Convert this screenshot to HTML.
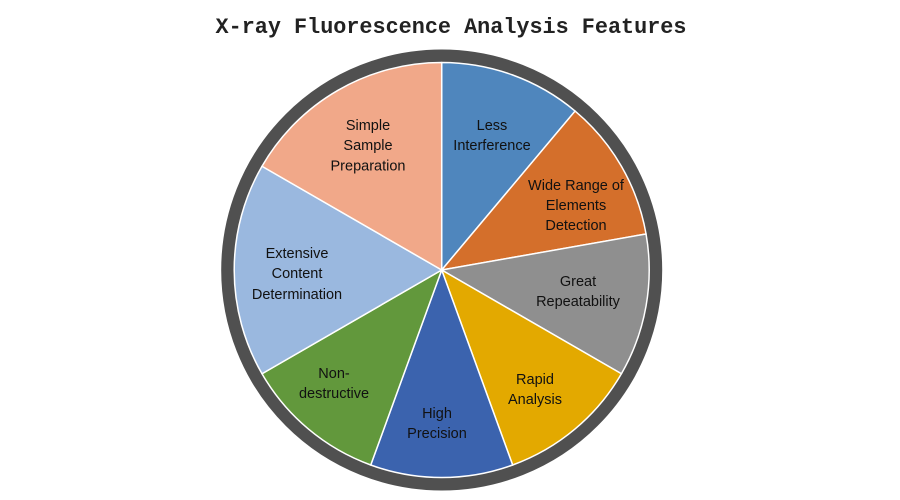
<!DOCTYPE html>
<html><head><meta charset="utf-8"><style>
html,body{margin:0;padding:0;background:#fff;}
svg{display:block;}
</style></head><body>
<svg width="900" height="500" viewBox="0 0 900 500" xmlns="http://www.w3.org/2000/svg">
<text x="451" y="27" text-anchor="middle" dominant-baseline="middle" font-family="Liberation Mono, monospace" font-weight="bold" font-size="21.8" fill="#222">X-ray Fluorescence Analysis Features</text>
<circle cx="441.7" cy="270" r="214" fill="none" stroke="#505050" stroke-width="13"/>
<g stroke="#fff" stroke-width="1.5" stroke-linejoin="round">
<path d="M441.7,270 L441.7,62.5 A207.5,207.5 0 0 1 575.1,111.05 Z" fill="#4f86bd"/>
<path d="M441.7,270 L575.1,111.05 A207.5,207.5 0 0 1 646.05,233.97 Z" fill="#d46f2b"/>
<path d="M441.7,270 L646.05,233.97 A207.5,207.5 0 0 1 621.4,373.75 Z" fill="#8f8f8f"/>
<path d="M441.7,270 L621.4,373.75 A207.5,207.5 0 0 1 512.67,464.99 Z" fill="#e3a900"/>
<path d="M441.7,270 L512.67,464.99 A207.5,207.5 0 0 1 370.73,464.99 Z" fill="#3b63ae"/>
<path d="M441.7,270 L370.73,464.99 A207.5,207.5 0 0 1 262,373.75 Z" fill="#62983c"/>
<path d="M441.7,270 L262,373.75 A207.5,207.5 0 0 1 262,166.25 Z" fill="#9ab8df"/>
<path d="M441.7,270 L262,166.25 A207.5,207.5 0 0 1 441.7,62.5 Z" fill="#f1a889"/>
</g>
<g font-family="Liberation Sans, sans-serif" font-size="14.5" fill="#111" text-anchor="middle" dominant-baseline="middle">
<text x="368" y="126">Simple</text><text x="368" y="146">Sample</text><text x="368" y="166.5">Preparation</text>
<text x="492" y="126">Less</text><text x="492" y="146">Interference</text>
<text x="576" y="186">Wide Range of</text><text x="576" y="206">Elements</text><text x="576" y="226">Detection</text>
<text x="578" y="282">Great</text><text x="578" y="302">Repeatability</text>
<text x="535" y="380">Rapid</text><text x="535" y="400">Analysis</text>
<text x="437" y="414">High</text><text x="437" y="434">Precision</text>
<text x="334" y="374">Non-</text><text x="334" y="394">destructive</text>
<text x="297" y="254">Extensive</text><text x="297" y="274">Content</text><text x="297" y="295">Determination</text>
</g>
</svg>
</body></html>
